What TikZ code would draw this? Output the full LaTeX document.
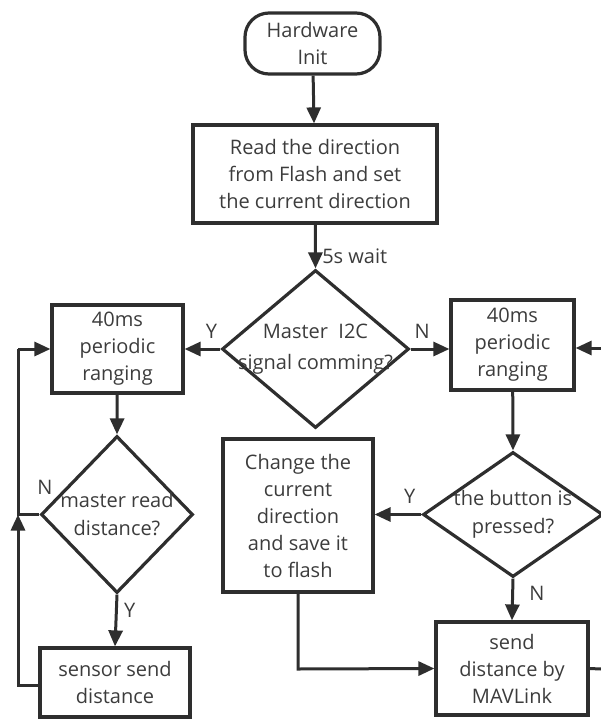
\documentclass[tikz,border=0pt]{standalone}
\usepackage{fontspec}
\setmainfont{Open Sans}
\usetikzlibrary{arrows.meta,shapes.geometric}
\definecolor{ink}{HTML}{2E2E2E}
\definecolor{txt}{HTML}{3C3C3C}
\begin{document}
\begin{tikzpicture}[x=1pt,y=-1pt,
  every node/.style={font=\fontsize{20}{27}\selectfont, text=txt},
  box/.style={draw=ink, line width=3.2pt, rectangle, align=center, inner sep=0pt},
  term/.style={box, rounded corners=24pt},
  dia/.style={draw=ink, line width=3.2pt, diamond, inner sep=0pt},
  conn/.style={draw=ink, line width=3pt, -{Triangle[length=16pt,width=14pt]}},
  line/.style={draw=ink, line width=3pt},
  lab/.style={font=\fontsize{20}{22}\selectfont}
]
\useasboundingbox (0,0) rectangle (601,720);
\node[term, minimum width=135pt, minimum height=61pt] (init) at (312.5,43.5) {Hardware\\Init};
\node[box, minimum width=244pt, minimum height=98pt] (read) at (315,174) {Read the direction\\from Flash and set\\the current direction};
\node[dia, minimum width=187pt, minimum height=158pt,
  label={[align=center, font=\fontsize{20}{31}\selectfont]center:Master\ \ I2C\\signal comming?}] (master) at (315.5,349) {};
\node[box, minimum width=131pt, minimum height=88pt] (lbox) at (117.5,349) {40ms\\periodic\\ranging};
\node[box, minimum width=123pt, minimum height=90pt] (rbox) at (512.5,345) {40ms\\periodic\\ranging};
\node[dia, minimum width=152pt, minimum height=157pt,
  label={[align=center, font=\fontsize{20}{28}\selectfont]center:master read\\distance?}] (mrd) at (117,514.5) {};
\node[box, minimum width=150pt, minimum height=69pt] (sensor) at (115,682.5) {sensor send\\distance};
\node[dia, minimum width=180pt, minimum height=125pt,
  label={[align=center, font=\fontsize{20}{28}\selectfont]center:the button is\\pressed?}] (button) at (513,514.5) {};
\node[box, minimum width=150pt, minimum height=153pt] (change) at (298,515.5) {Change the\\current\\direction\\and save it\\to flash};
\node[box, minimum width=152pt, minimum height=93pt] (mav) at (512,668.5) {send\\distance by\\MAVLink};

\coordinate (rin) at (601,348);
\coordinate (rout) at (601,669);
\coordinate (fbtop) at (18,349);
\coordinate (fbmid) at (18,514.5);
\coordinate (fbbot) at (18,685);
\coordinate (chdown) at (298,669);

\draw[conn] (init) -- (read);
\draw[conn] (read) -- node[lab, right, pos=0.72, xshift=2pt] (wait) {5s wait} (master.north);
\draw[conn] (master.west) -- node[lab, above, yshift=6pt, pos=0.25] (ly) {Y} (lbox.east);
\draw[conn] (master.east) -- node[lab, above, yshift=6pt, pos=0.3] (rn) {N} (master.east -| rbox.west);
\draw[conn] (rin) -- (rin -| rbox.east);
\draw[conn] (lbox) -- (mrd.north);
\draw[line] (mrd.west) -- (fbmid) -- (fbtop);
\draw[conn] (fbtop) -- (lbox.west);
\draw[conn] (sensor.west |- fbbot) -- (fbbot) -- (fbmid);
\node[lab] (mn) at (45,487) {N};
\draw[conn] (mrd.south) -- node[lab, right, pos=0.3, xshift=3pt] (my) {Y} (sensor.north);
\draw[conn] (rbox) -- (button.north);
\draw[conn] (button.west) -- node[lab, above, yshift=6pt, pos=0.25] (by) {Y} (button.west -| change.east);
\draw[conn] (button.south) -- node[lab, right, pos=0.35, xshift=12pt] (bn) {N} (mav.north);
\draw[conn] (change.south) -- (chdown) -- (mav.west);
\draw[line] (mav.east) -- (rout);
\end{tikzpicture}
\end{document}
